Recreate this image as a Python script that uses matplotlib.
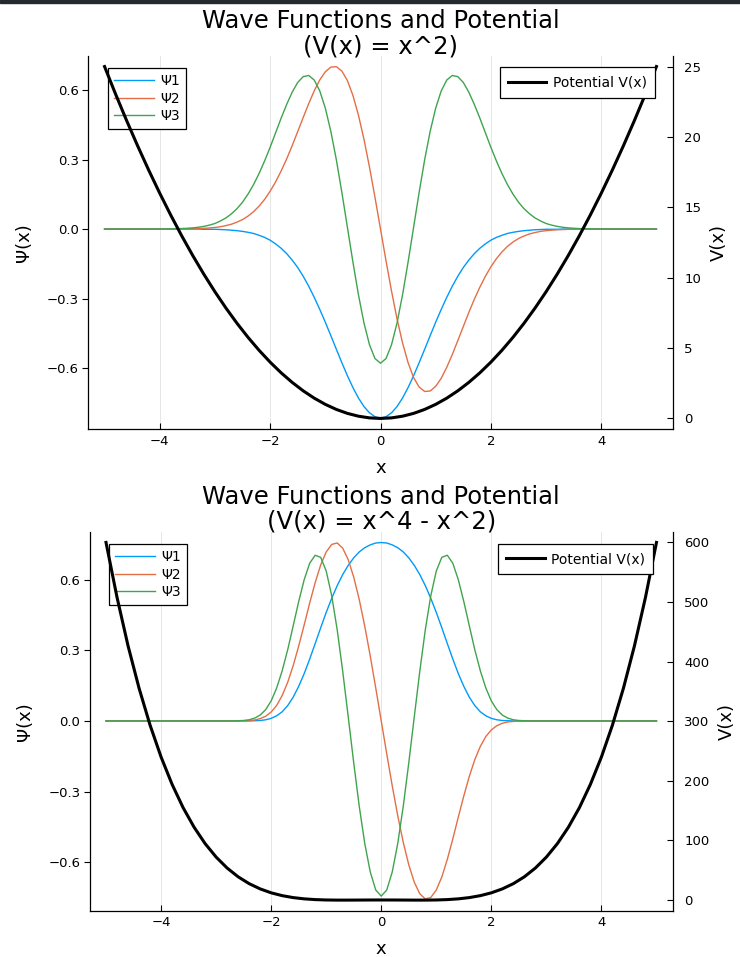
import numpy as np
import matplotlib.pyplot as plt
from matplotlib.patches import Rectangle

# sample positions: coarse in the flat tails, 0.1 steps in the middle
x_psi = np.concatenate([[-5, -4.5, -4, -3.8], np.arange(-36, 37) / 10, [3.8, 4, 4.5, 5]])
x_V = np.linspace(-5, 5, 51)

# ---- top panel : V(x) = x^2 ----
psi1_top = [0, 0, 0, 0,
            0, 0, 0, 0, -0.001, -0.001,
            -0.001, -0.002, -0.003, -0.005, -0.007, -0.010, -0.014, -0.019, -0.027, -0.036,
            -0.048, -0.064, -0.083, -0.106, -0.134, -0.166, -0.204, -0.247, -0.295, -0.347,
            -0.402, -0.460, -0.519, -0.577, -0.633, -0.684, -0.729, -0.766, -0.793, -0.810,
            -0.816,
            -0.810, -0.793, -0.766, -0.729, -0.684, -0.633, -0.577, -0.519, -0.460, -0.402,
            -0.347, -0.295, -0.247, -0.204, -0.166, -0.134, -0.106, -0.083, -0.064, -0.048,
            -0.036, -0.027, -0.019, -0.014, -0.010, -0.007, -0.005, -0.003, -0.002, -0.001,
            -0.001, -0.001, 0, 0, 0, 0,
            0, 0, 0, 0]
psi2_top = [0, 0, 0, 0,
            0.0005, 0.0008, 0.0013, 0.0021, 0.0032, 0.0048,
            0.007, 0.010, 0.015, 0.021, 0.030, 0.041, 0.056, 0.075, 0.099, 0.128,
            0.163, 0.204, 0.251, 0.303, 0.360, 0.421, 0.482, 0.542, 0.597, 0.644,
            0.679, 0.699, 0.701, 0.682, 0.641, 0.577, 0.492, 0.388, 0.268, 0.137,
            0,
            -0.137, -0.268, -0.388, -0.492, -0.577, -0.641, -0.682, -0.701, -0.699, -0.679,
            -0.644, -0.597, -0.542, -0.482, -0.421, -0.360, -0.303, -0.251, -0.204, -0.163,
            -0.128, -0.099, -0.075, -0.056, -0.041, -0.030, -0.021, -0.015, -0.010, -0.007,
            -0.0048, -0.0032, -0.0021, -0.0013, -0.0008, -0.0005,
            0, 0, 0, 0]
psi3_top = [0, 0, 0.0003, 0.0008,
            0.0022, 0.0034, 0.0052, 0.0078, 0.0116, 0.0170,
            0.024, 0.035, 0.048, 0.066, 0.088, 0.116, 0.151, 0.192, 0.240, 0.294,
            0.353, 0.416, 0.479, 0.538, 0.591, 0.633, 0.658, 0.663, 0.643, 0.596,
            0.522, 0.422, 0.299, 0.158, 0.008, -0.142, -0.283, -0.405, -0.499, -0.559,
            -0.579,
            -0.559, -0.499, -0.405, -0.283, -0.142, 0.008, 0.158, 0.299, 0.422, 0.522,
            0.596, 0.643, 0.663, 0.658, 0.633, 0.591, 0.538, 0.479, 0.416, 0.353,
            0.294, 0.240, 0.192, 0.151, 0.116, 0.088, 0.066, 0.048, 0.035, 0.024,
            0.0170, 0.0116, 0.0078, 0.0052, 0.0034, 0.0022,
            0.0008, 0.0003, 0, 0]
V_top = [25, 23.04, 21.16, 19.36, 17.64, 16, 14.44, 12.96, 11.56, 10.24, 9, 7.84, 6.76, 5.76, 4.84, 4,
         3.24, 2.56, 1.96, 1.44, 1, 0.64, 0.36, 0.16, 0.04, 0, 0.04, 0.16, 0.36, 0.64, 1, 1.44, 1.96, 2.56,
         3.24, 4, 4.84, 5.76, 6.76, 7.84, 9, 10.24, 11.56, 12.96, 14.44, 16, 17.64, 19.36, 21.16, 23.04, 25]

# ---- bottom panel : V(x) = x^4 - x^2 ----
psi1_bot = [0, 0, 0, 0,
            0, 0, 0, 0, 0, 0,
            0, 0, 0, 0, 0, 0, 0, 0.001, 0.002, 0.005,
            0.011, 0.022, 0.039, 0.065, 0.101, 0.147, 0.201, 0.263, 0.329, 0.396,
            0.461, 0.521, 0.575, 0.622, 0.661, 0.693, 0.718, 0.736, 0.748, 0.756,
            0.758,
            0.756, 0.748, 0.736, 0.718, 0.693, 0.661, 0.622, 0.575, 0.521, 0.461,
            0.396, 0.329, 0.263, 0.201, 0.147, 0.101, 0.065, 0.039, 0.022, 0.011,
            0.005, 0.002, 0.001, 0, 0, 0, 0, 0, 0, 0,
            0, 0, 0, 0, 0, 0,
            0, 0, 0, 0]
psi2_bot = [0, 0, 0, 0,
            0, 0, 0, 0, 0, 0,
            0, 0, 0, 0, 0, 0.001, 0.002, 0.004, 0.010, 0.020,
            0.038, 0.066, 0.108, 0.164, 0.235, 0.318, 0.408, 0.501, 0.588, 0.663,
            0.718, 0.750, 0.756, 0.734, 0.685, 0.611, 0.516, 0.403, 0.276, 0.140,
            0,
            -0.140, -0.276, -0.403, -0.516, -0.611, -0.685, -0.734, -0.756, -0.750, -0.718,
            -0.663, -0.588, -0.501, -0.408, -0.318, -0.235, -0.164, -0.108, -0.066, -0.038,
            -0.020, -0.010, -0.004, -0.002, -0.001, 0, 0, 0, 0, 0,
            0, 0, 0, 0, 0, 0,
            0, 0, 0, 0]
psi3_bot = [0, 0, 0, 0,
            0, 0, 0, 0, 0, 0,
            0, 0, 0, 0, 0.001, 0.002, 0.005, 0.012, 0.025, 0.048,
            0.085, 0.140, 0.213, 0.302, 0.404, 0.507, 0.600, 0.670, 0.704, 0.695,
            0.637, 0.532, 0.387, 0.211, 0.018, -0.178, -0.362, -0.520, -0.641, -0.718,
            -0.744,
            -0.718, -0.641, -0.520, -0.362, -0.178, 0.018, 0.211, 0.387, 0.532, 0.637,
            0.695, 0.704, 0.670, 0.600, 0.507, 0.404, 0.302, 0.213, 0.140, 0.085,
            0.048, 0.025, 0.012, 0.005, 0.002, 0.001, 0, 0, 0, 0,
            0, 0, 0, 0, 0, 0,
            0, 0, 0, 0]
V_bot = [600, 507.8, 426.6, 355.5, 293.5, 240, 194.1, 155.0, 122.1, 94.6, 72, 53.6, 38.9, 27.4, 18.6, 12,
         7.26, 3.99, 1.88, 0.63, 0, -0.23, -0.23, -0.13, -0.04, 0, -0.04, -0.13, -0.23, -0.23, 0, 0.63,
         1.88, 3.99, 7.26, 12, 18.6, 27.4, 38.9, 53.6, 72, 94.6, 122.1, 155.0, 194.1, 240, 293.5, 355.5,
         426.6, 507.8, 600]

psi_labels = ["Ψ1", "Ψ2", "Ψ3"]
psi_colors = ["#009AFA", "#E36F47", "#3EA44E"]

W, H = 740, 957
fig = plt.figure(figsize=(W / 100, H / 100), dpi=100)
fig.patches.append(Rectangle((0, 1 - 3 / H), 1, 3 / H, transform=fig.transFigure,
                             color="#24292f", zorder=10))


def draw_panel(box, psis, V, title, psi_lim, V_lim, V_ticks, psi_anchor, V_anchor):
    left, top, right, bottom = box
    ax = fig.add_axes([left / W, 1 - bottom / H, (right - left) / W, (bottom - top) / H])
    for psi, c, lab in zip(psis, psi_colors, psi_labels):
        ax.plot(x_psi, psi, color=c, lw=1.0, label=lab)
    ax.set_xlim(-5.3, 5.3)
    ax.set_ylim(*psi_lim)
    ax.set_xticks([-4, -2, 0, 2, 4])
    ax.set_yticks([-0.6, -0.3, 0.0, 0.3, 0.6])
    ax.grid(axis="x", color="#e6e6e6", lw=0.7)
    ax.set_axisbelow(True)
    for s in ["top", "right"]:
        ax.spines[s].set_visible(False)
    for s in ["left", "bottom"]:
        ax.spines[s].set_linewidth(0.9)
    ax.tick_params(axis="x", direction="in", length=4.5, width=0.8, labelsize=9.5, pad=4)
    ax.tick_params(axis="y", direction="out", length=4.5, width=0.8, labelsize=9.5, pad=2)
    ax.set_xlabel("x", fontsize=13, labelpad=8)
    ax.set_ylabel("Ψ(x)", fontsize=13, labelpad=10)
    # fixed y so the title sits right on the frame like the original
    ax.set_title(title, fontsize=17.5, y=1.0, pad=2, linespacing=1.05)
    leg = ax.legend(loc="upper left", bbox_to_anchor=psi_anchor, borderaxespad=0, fontsize=10,
                    handlelength=2.9, handletextpad=0.4, labelspacing=0.25, borderpad=0.45,
                    fancybox=False, framealpha=1, edgecolor="black")
    leg.get_frame().set_linewidth(0.9)

    ax2 = ax.twinx()
    ax2.plot(x_V, V, color="black", lw=2.2, label="Potential V(x)")
    ax2.set_ylim(*V_lim)
    ax2.set_yticks(V_ticks)
    for s in ["top", "left", "bottom"]:
        ax2.spines[s].set_visible(False)
    ax2.spines["right"].set_linewidth(0.9)
    ax2.tick_params(axis="y", direction="in", length=4.5, width=0.8, labelsize=9.5, pad=8)
    ax2.set_ylabel("V(x)", fontsize=13, labelpad=6)
    leg2 = ax2.legend(loc="upper right", bbox_to_anchor=V_anchor, borderaxespad=0, fontsize=10,
                      handlelength=2.75, handletextpad=0.45, borderpad=0.6,
                      fancybox=False, framealpha=1, edgecolor="black")
    leg2.get_frame().set_linewidth(0.9)
    return ax, ax2


draw_panel((88, 56, 673, 429), [psi1_top, psi2_top, psi3_top], V_top,
           "Wave Functions and Potential\n(V(x) = x^2)",
           (-0.863, 0.747), (-0.75, 25.75), [0, 5, 10, 15, 20, 25],
           (0.034, 0.968), (0.969, 0.970))
draw_panel((89.5, 531.7, 673, 910.7), [psi1_bot, psi2_bot, psi3_bot], V_bot,
           "Wave Functions and Potential\n(V(x) = x^4 - x^2)",
           (-0.806, 0.804), (-18, 618), [0, 100, 200, 300, 400, 500, 600],
           (0.033, 0.968), (0.966, 0.968))

fig.savefig("out.png", dpi=100)
